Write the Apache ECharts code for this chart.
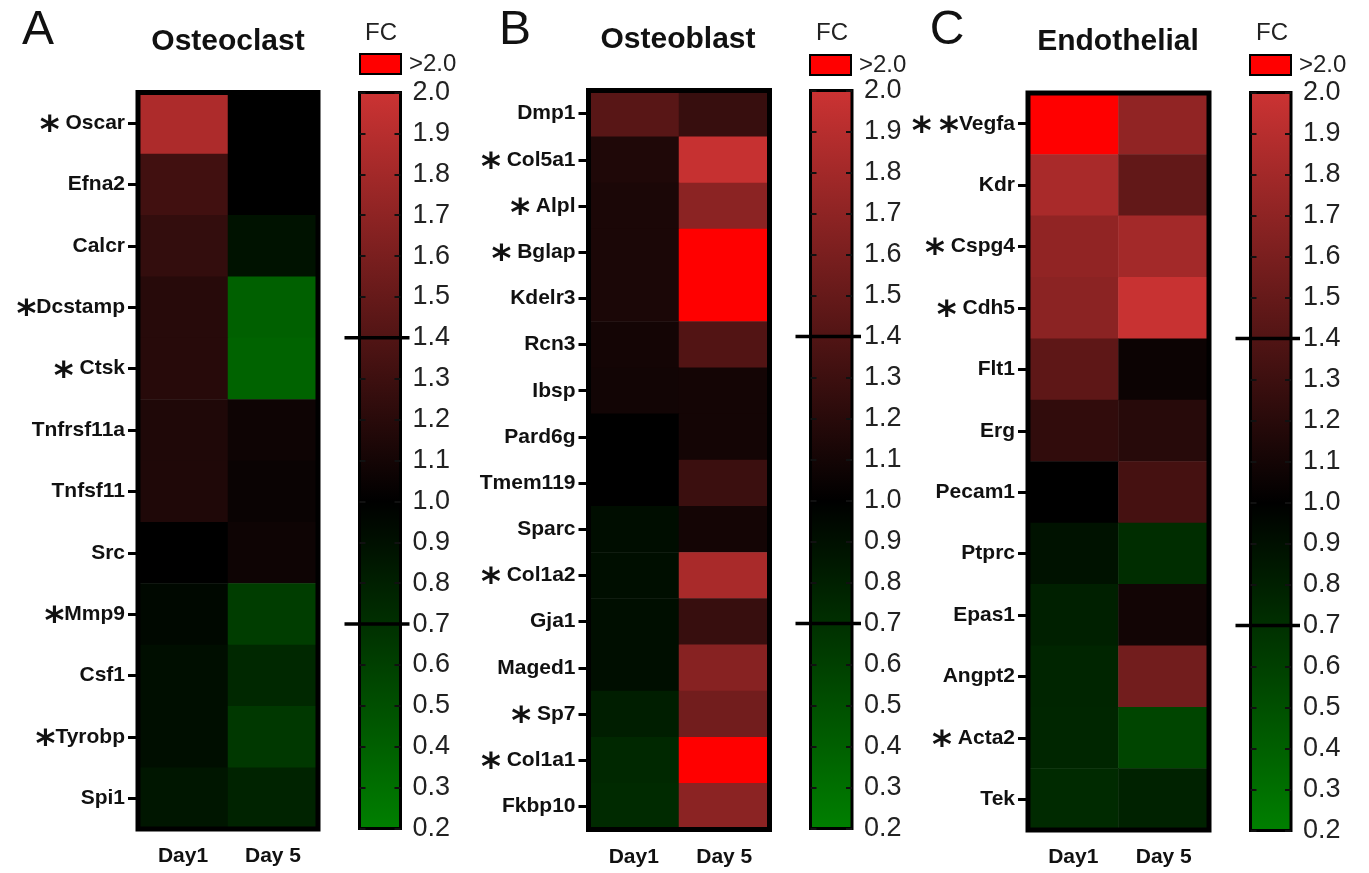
<!DOCTYPE html>
<html>
<head>
<meta charset="utf-8">
<script src="https://cdn.jsdelivr.net/npm/echarts@6/dist/echarts.min.js"></script>
<style>
html,body{margin:0;padding:0;background:#fff;}
#chart{width:1369px;height:873px;}
</style>
</head>
<body>
<div id="chart"></div>
<script>
// ---------------- DATA ----------------
const days = ['Day1', 'Day 5'];

const osteoclastGenes = ['* Oscar', 'Efna2', 'Calcr', '*Dcstamp', '* Ctsk', 'Tnfrsf11a', 'Tnfsf11', 'Src', '*Mmp9', 'Csf1', '*Tyrobp', 'Spi1'];
const osteoclastDay1 = [1.85, 1.32, 1.25, 1.19, 1.19, 1.15, 1.15, 1.00, 0.95, 0.91, 0.91, 0.86];
const osteoclastDay5 = [1.00, 1.00, 0.89, 0.40, 0.38, 1.07, 1.05, 1.07, 0.62, 0.75, 0.65, 0.78];

const osteoblastGenes = ['Dmp1', '* Col5a1', '* Alpl', '* Bglap', 'Kdelr3', 'Rcn3', 'Ibsp', 'Pard6g', 'Tmem119', 'Sparc', '* Col1a2', 'Gja1', 'Maged1', '* Sp7', '* Col1a1', 'Fkbp10'];
const osteoblastDay1 = [1.43, 1.15, 1.13, 1.13, 1.13, 1.10, 1.09, 1.00, 1.00, 0.92, 0.91, 0.91, 0.91, 0.81, 0.75, 0.74];
const osteoblastDay5 = [1.27, 1.97, 1.68, 2.40, 2.40, 1.40, 1.10, 1.10, 1.29, 1.10, 1.83, 1.27, 1.66, 1.56, 2.50, 1.68];

const endothelialGenes = ['**Vegfa', 'Kdr', '* Cspg4', '* Cdh5', 'Flt1', 'Erg', 'Pecam1', 'Ptprc', 'Epas1', 'Angpt2', '* Acta2', 'Tek'];
const endothelialDay1 = [2.30, 1.83, 1.71, 1.68, 1.46, 1.24, 1.00, 0.89, 0.80, 0.77, 0.76, 0.74];
const endothelialDay5 = [1.71, 1.48, 1.80, 1.98, 1.06, 1.19, 1.34, 0.72, 1.09, 1.56, 0.57, 0.79];

const fcMin = 0.2, fcMid = 1.0, fcMax = 2.0, fcStep = 0.1;
const fcThresholds = [1.4, 0.7];
const overLabel = '>2.0';
const scaleTitle = 'FC';

const panels = [
  {letter: 'A', title: 'Osteoclast', genes: osteoclastGenes, d1: osteoclastDay1, d5: osteoclastDay5},
  {letter: 'B', title: 'Osteoblast', genes: osteoblastGenes, d1: osteoblastDay1, d5: osteoblastDay5},
  {letter: 'C', title: 'Endothelial', genes: endothelialGenes, d1: endothelialDay1, d5: endothelialDay5}
];

// ---------------- STYLE / LAYOUT ----------------
const FONT = 'Liberation Sans, Arial, sans-serif';
const TXT = '#111';
const HI = [204, 51, 51], LO = [0, 128, 0], OVER = '#ff0000';
const layout = [
  {heat: {left: 138, top: 92.5, width: 180, height: 736.5}, bar: {left: 359.5, top: 92.5, width: 41, height: 736}, letterX: 38, titleX: 228, titleY: 42, fcX: 381, legLeft: 359, legTop: 52},
  {heat: {left: 588.5, top: 90.5, width: 181, height: 739}, bar: {left: 810.5, top: 90.5, width: 41.5, height: 738}, letterX: 515, titleX: 678, titleY: 40, fcX: 832, legLeft: 809, legTop: 53},
  {heat: {left: 1028, top: 93, width: 181, height: 737}, bar: {left: 1250.5, top: 92.5, width: 40.5, height: 738}, letterX: 947, titleX: 1118, titleY: 42, fcX: 1272, legLeft: 1249, legTop: 53}
];

function rgb(c) { return 'rgb(' + c.map(Math.round).join(',') + ')'; }
function colorFor(v) {
  if (v > fcMax) return OVER;
  if (v >= fcMid) { const t = (v - fcMid) / (fcMax - fcMid); return rgb(HI.map(c => c * t)); }
  const t = Math.min(1, (fcMid - v) / (fcMid - fcMin)); return rgb(LO.map(c => c * t));
}

const option = {
  backgroundColor: '#fff',
  animation: false,
  grid: [], xAxis: [], yAxis: [], series: [], legend: [], graphic: []
};

panels.forEach((p, i) => {
  const L = layout[i];
  const gHeat = option.grid.length;
  option.grid.push(Object.assign({show: true, borderColor: '#000', borderWidth: 5, backgroundColor: 'transparent', z: 5}, L.heat));
  const gBar = option.grid.length;
  option.grid.push(Object.assign({}, L.bar));

  // heatmap axes
  const xHeat = option.xAxis.length;
  option.xAxis.push({
    gridIndex: gHeat, type: 'category', data: days, position: 'bottom',
    axisLine: {show: false}, axisTick: {show: false}, splitLine: {show: false},
    axisLabel: {margin: 17, fontFamily: FONT, fontWeight: 'bold', fontSize: 21, color: TXT}
  });
  const yHeat = option.yAxis.length;
  option.yAxis.push({
    gridIndex: gHeat, type: 'category', data: p.genes, inverse: true, position: 'left',
    axisLine: {show: false},
    axisTick: {show: true, alignWithLabel: true, length: 10, lineStyle: {color: '#000', width: 3}},
    splitLine: {show: false},
    axisLabel: {
      margin: 13, fontFamily: FONT, fontWeight: 'bold', fontSize: 21, color: TXT,
      formatter: s => {
        const m = s.match(/^(\*+)(\s*)(.*)$/);
        if (!m) return s;
        return '{s|' + m[1].split('').join('\u2009') + '}' + (m[2] ? ' ' : '') + m[3];
      },
      rich: {s: {fontFamily: 'DejaVu Sans', fontWeight: 'bold', fontSize: 38, color: TXT, padding: [18, 0, 0, 0]}}
    }
  });

  const data = [];
  p.genes.forEach((g, r) => {
    [p.d1[r], p.d5[r]].forEach((v, c) => {
      data.push({value: [c, r, v], itemStyle: {color: colorFor(v)}});
    });
  });
  option.series.push({
    type: 'heatmap', name: p.title, xAxisIndex: xHeat, yAxisIndex: yHeat, data: data,
    itemStyle: {borderWidth: 0}, emphasis: {disabled: true}, z: 2
  });

  // colour bar axes
  const xBar = option.xAxis.length;
  option.xAxis.push({gridIndex: gBar, type: 'value', min: 0, max: 1, show: false});
  const yBarR = option.yAxis.length;
  option.yAxis.push({
    gridIndex: gBar, type: 'value', min: fcMin, max: fcMax, interval: fcStep, position: 'right', z: 6,
    axisLine: {show: false, onZero: false}, splitLine: {show: false},
    axisTick: {show: true, inside: true, length: 6, lineStyle: {color: '#111', width: 2}},
    axisLabel: {margin: 12, fontFamily: FONT, fontSize: 27, color: '#222', formatter: v => v.toFixed(1)}
  });
  option.yAxis.push({
    gridIndex: gBar, type: 'value', min: fcMin, max: fcMax, interval: fcStep, position: 'left', z: 6,
    axisLine: {show: false, onZero: false}, splitLine: {show: false}, axisLabel: {show: false},
    axisTick: {show: true, inside: true, length: 6, lineStyle: {color: '#111', width: 2}}
  });
  const midOff = (fcMax - fcMid) / (fcMax - fcMin);
  option.series.push({
    type: 'custom', xAxisIndex: xBar, yAxisIndex: yBarR, z: 1, silent: true,
    data: [[fcMin, fcMax]],
    renderItem: (params, api) => {
      const lo = api.value(0), hi = api.value(1);
      const a = api.coord([0, hi]), b = api.coord([1, lo]);
      return {
        type: 'rect',
        shape: {x: a[0], y: a[1], width: b[0] - a[0], height: b[1] - a[1]},
        style: {
          fill: new echarts.graphic.LinearGradient(0, 0, 0, 1, [
            {offset: 0, color: rgb(HI)}, {offset: midOff, color: '#000'}, {offset: 1, color: rgb(LO)}
          ]),
          stroke: '#000', lineWidth: 3
        }
      };
    }
  });
  option.series.push({
    type: 'custom', xAxisIndex: xBar, yAxisIndex: yBarR, z: 8, silent: true,
    data: fcThresholds.map(v => [v]),
    renderItem: (params, api) => {
      const v = api.value(0);
      const a = api.coord([0, v]), b = api.coord([1, v]);
      return {type: 'line', shape: {x1: a[0] - 15, y1: a[1], x2: b[0] + 9, y2: b[1]}, style: {stroke: '#000', lineWidth: 3.5}};
    }
  });

  option.legend.push({
    left: L.legLeft, top: L.legTop, padding: 0, data: [{name: overLabel, icon: 'rect'}],
    itemWidth: 41, itemHeight: 20, selectedMode: false,
    itemStyle: {borderColor: '#000', borderWidth: 2, opacity: 1, color: OVER},
    textStyle: {fontFamily: FONT, fontSize: 24, color: '#222', padding: [0, 0, 0, 3]}
  });

  option.graphic.push(
    {type: 'text', x: L.letterX, y: 31, style: {text: p.letter, font: '48px ' + FONT, fill: TXT, textAlign: 'center', textVerticalAlign: 'middle'}},
    {type: 'text', x: L.titleX, y: L.titleY, style: {text: p.title, font: 'bold 30px ' + FONT, fill: TXT, textAlign: 'center', textVerticalAlign: 'middle'}},
    {type: 'text', x: L.fcX, y: 33, style: {text: scaleTitle, font: '24px ' + FONT, fill: '#222', textAlign: 'center', textVerticalAlign: 'middle'}}
  );
});

// series providing the legend swatch colour for values above the scale
option.series.push({type: 'scatter', name: overLabel, xAxisIndex: 0, yAxisIndex: 0, data: [], itemStyle: {color: OVER, opacity: 1}});

const chart = echarts.init(document.getElementById('chart'), null, {renderer: 'canvas'});
chart.setOption(option);
</script>
</body>
</html>
